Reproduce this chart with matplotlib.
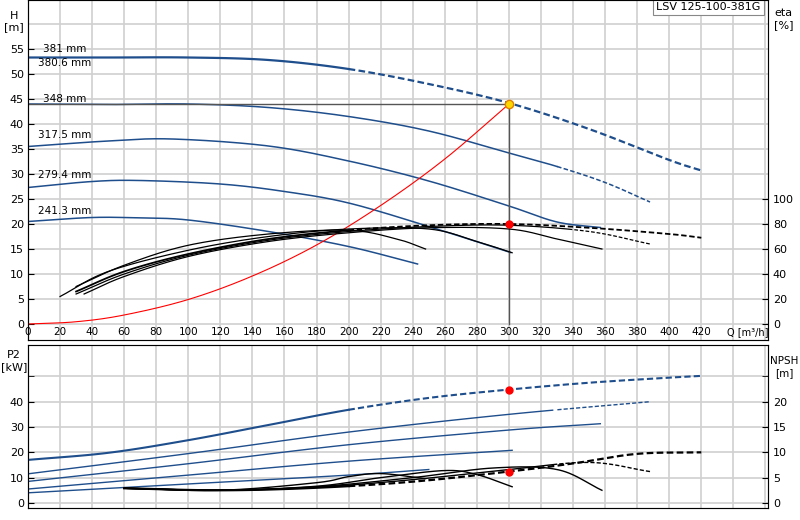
import matplotlib
matplotlib.use("Agg")
import matplotlib.pyplot as plt
import numpy as np

BLUE = "#1f4e8c"
diam_labels = ["381 mm", "380.6 mm", "348 mm", "317.5 mm", "279.4 mm", "241.3 mm"]

# Head curves (Q m3/h, H m)
q381 = [0, 50, 100, 150, 200, 250, 300, 350, 400, 420]
h381 = [53.3, 53.3, 53.3, 52.8, 51.0, 48.0, 44.2, 39.0, 32.8, 30.7]
q348 = [0, 50, 100, 150, 200, 250, 300, 330, 360, 388]
h348 = [44.0, 43.9, 44.0, 43.3, 41.5, 38.6, 34.2, 31.5, 28.3, 24.4]
q317 = [0, 50, 90, 150, 200, 250, 300, 330, 357]
h317 = [35.5, 36.6, 37.0, 35.6, 32.6, 28.6, 23.6, 20.4, 19.3]
q279 = [0, 40, 70, 120, 160, 200, 250, 301]
h279 = [27.3, 28.5, 28.7, 28.0, 26.5, 24.2, 19.5, 14.3]
q241 = [0, 40, 70, 100, 150, 200, 243]
h241 = [20.5, 21.3, 21.2, 20.8, 18.5, 15.5, 12.0]
# system curve
q_sys = [0, 30, 60, 100, 140, 180, 220, 260, 300]
h_sys = [0, 0.45, 1.8, 4.9, 9.6, 15.8, 23.7, 33.0, 44.0]
# efficiency curves (%)
qe381 = [30, 60, 100, 150, 200, 250, 300, 350, 400, 420]
e381 = [26, 42, 56, 68, 75, 79, 80, 77, 72, 69]
qe348 = [30, 60, 100, 150, 200, 250, 300, 350, 388]
e348 = [24, 40, 55, 67, 74, 78, 79, 74, 64]
qe317 = [35, 60, 100, 150, 200, 250, 300, 330, 358]
e317 = [24, 38, 54, 66, 73, 77, 76, 68, 60]
qe279 = [20, 50, 100, 150, 200, 250, 280, 302]
e279 = [22, 42, 59, 70, 76, 76, 66, 57]
qe241 = [30, 60, 100, 150, 200, 230, 248]
e241 = [30, 47, 63, 72, 75, 68, 60]
# power curves (kW)
qp381 = [0, 50, 100, 150, 200, 250, 300, 350, 400, 420]
p381 = [17, 19.8, 24.8, 30.8, 36.8, 41.5, 44.8, 47.5, 49.5, 50.2]
qp348 = [0, 100, 200, 300, 388]
p348 = [11.5, 19.5, 28.0, 35.0, 40.0]
qp317 = [0, 100, 200, 300, 357]
p317 = [8.5, 15.5, 23.0, 28.8, 31.3]
qp279 = [0, 100, 200, 302]
p279 = [5.5, 11.0, 16.5, 20.8]
qp241 = [0, 100, 200, 250]
p241 = [4.0, 7.5, 11.0, 13.2]
# NPSH curves (m)
qn381 = [60, 120, 180, 240, 300, 340, 380, 420]
n381 = [2.9, 2.5, 3.0, 4.2, 6.2, 7.8, 9.7, 10.0]
qn348 = [60, 120, 180, 240, 300, 350, 388]
n348 = [2.9, 2.5, 3.1, 4.6, 6.6, 8.0, 6.2]
qn317 = [60, 120, 180, 240, 290, 330, 358]
n317 = [2.9, 2.5, 3.2, 5.0, 6.9, 6.6, 2.5]
qn279 = [60, 120, 180, 220, 260, 280, 302]
n279 = [2.9, 2.5, 3.3, 5.0, 6.4, 5.6, 3.2]
qn241 = [60, 120, 180, 200, 220, 248]
n241 = [2.9, 2.5, 4.0, 5.2, 5.8, 4.8]

q_op, h_op, e_op, p_op, n_op = 300, 44.0, 80, 44.8, 6.2

def smooth(q, v, n=30):
    q = np.asarray(q, float); v = np.asarray(v, float)
    P = np.column_stack([q, v])
    P = np.vstack([2*P[0]-P[1], P, 2*P[-1]-P[-2]])
    out = []
    for i in range(1, len(P)-2):
        p0, p1, p2, p3 = P[i-1], P[i], P[i+1], P[i+2]
        t = np.linspace(0, 1, n, endpoint=False)[:, None]
        out.append(0.5*((2*p1) + (-p0+p2)*t + (2*p0-5*p1+4*p2-p3)*t**2 + (-p0+3*p1-3*p2+p3)*t**3))
    out.append(P[-2][None, :])
    o = np.vstack(out)
    return o[:, 0], o[:, 1]

fig = plt.figure(figsize=(8, 5.2), dpi=100)
ax = fig.add_axes([28/800, 1-340/520, 740/800, 340/520])
ax2 = fig.add_axes([28/800, 1-508/520, 740/800, 163/520])
GRID = "#d0d0d0"

def style(a, ylim):
    a.set_xlim(0, 461.6)
    a.set_ylim(*ylim)
    a.set_xticks(np.arange(0, 461, 20))
    a.grid(True, color=GRID, lw=1.2)
    a.tick_params(axis="x", length=0, labelbottom=False)
    a.tick_params(axis="y", labelsize=8, length=4, direction="in", pad=3)
    for s in a.spines.values():
        s.set_color("#888888")
    a.spines["left"].set_color("#333333")

style(ax, (-3.2, 64.8))
ax.set_yticks(np.arange(0, 56, 5))
ax.set_yticks([60], minor=True)
ax.grid(True, which="minor", color=GRID, lw=1.2)
ax.tick_params(which="minor", length=0)
for q in range(0, 421, 20):
    ax.text(q, -1.6, str(q), fontsize=7.5, ha="center", va="center")
ax.text(449, -1.6, "Q [m³/h]", fontsize=7, ha="center", va="center")
ax.text(-14/1.603, 60.5, "H\n[m]", fontsize=8, ha="center", va="center")

def split(a, q, v, qs, **kw):
    qq, vv = smooth(q, v)
    m = qq <= qs
    a.plot(qq[m], vv[m], **kw)
    a.plot(qq[qq >= qs], vv[qq >= qs], ls=(0, (3, 1.5)), **kw)

def line(a, q, v, **kw):
    qq, vv = smooth(q, v)
    a.plot(qq, vv, **kw)

split(ax, q381, h381, 200, color=BLUE, lw=1.6)
split(ax, q348, h348, 330, color=BLUE, lw=1.1)
line(ax, q317, h317, color=BLUE, lw=1.1)
line(ax, q279, h279, color=BLUE, lw=1.1)
line(ax, q241, h241, color=BLUE, lw=1.1)
line(ax, q_sys, h_sys, color="red", lw=0.8)
ax.plot([0, q_op], [h_op, h_op], color="#555555", lw=1)
ax.plot([q_op, q_op], [0, h_op], color="#555555", lw=1)

k = 0.25
split(ax, qe381, np.array(e381)*k, 200, color="black", lw=1.3)
split(ax, qe348, np.array(e348)*k, 340, color="black", lw=0.9)
line(ax, qe317, np.array(e317)*k, color="black", lw=0.9)
line(ax, qe279, np.array(e279)*k, color="black", lw=0.9)
line(ax, qe241, np.array(e241)*k, color="black", lw=0.9)
ax.plot(q_op, h_op, "o", ms=6, mfc="#ffd700", mec="#e08000")
ax.plot(q_op, e_op*k, "o", ms=5, color="red")

for lab, y in zip(diam_labels, [54.9, 52.1, 45.0, 37.7, 29.8, 22.6]):
    ax.text(23, y, lab, fontsize=7.5, ha="center", va="center")

axr = ax.twinx()
axr.set_ylim(-3.2*4, 64.8*4)
axr.set_yticks(np.arange(0, 101, 20))
axr.tick_params(labelsize=8, length=4, direction="in")
axr.text(1.008, 0.975, "eta\n[%]", transform=ax.transAxes, fontsize=8, ha="left", va="top")
ax.text(0.99, 0.995, "LSV 125-100-381G", transform=ax.transAxes, fontsize=8, ha="right", va="top",
        bbox=dict(boxstyle="square,pad=0.3", fc="white", ec="#888888", lw=0.8))

style(ax2, (-2, 62.4))
ax2.set_yticks(np.arange(0, 41, 10))
ax2.set_yticks([50], minor=True)
ax2.grid(True, which="minor", color=GRID, lw=1.2)
ax2.tick_params(which="minor", length=4, direction="in")
ax2.text(-14/1.603, 56, "P2\n[kW]", fontsize=8, ha="center", va="center")
split(ax2, qp381, p381, 200, color=BLUE, lw=1.5)
split(ax2, qp348, p348, 330, color=BLUE, lw=1.0)
line(ax2, qp317, p317, color=BLUE, lw=1.0)
line(ax2, qp279, p279, color=BLUE, lw=1.0)
line(ax2, qp241, p241, color=BLUE, lw=1.0)
split(ax2, qn381, np.array(n381)*2, 200, color="black", lw=1.6)
split(ax2, qn348, np.array(n348)*2, 330, color="black", lw=1.0)
line(ax2, qn317, np.array(n317)*2, color="black", lw=1.0)
line(ax2, qn279, np.array(n279)*2, color="black", lw=1.0)
line(ax2, qn241, np.array(n241)*2, color="black", lw=1.0)
ax2.plot(q_op, p_op, "o", ms=5, color="red")
ax2.plot(q_op, n_op*2, "o", ms=5, color="red")
ax2r = ax2.twinx()
ax2r.set_ylim(-1, 31.2)
ax2r.set_yticks(np.arange(0, 21, 5))
ax2r.set_yticks([25], minor=True)
ax2r.tick_params(labelsize=8, length=4, direction="in")
ax2r.tick_params(which="minor", length=4, direction="in")
ax2.text(1.022, 0.93, "NPSH\n[m]", transform=ax2.transAxes, fontsize=7.5, ha="center", va="top")

fig.savefig("out.png", dpi=100)
